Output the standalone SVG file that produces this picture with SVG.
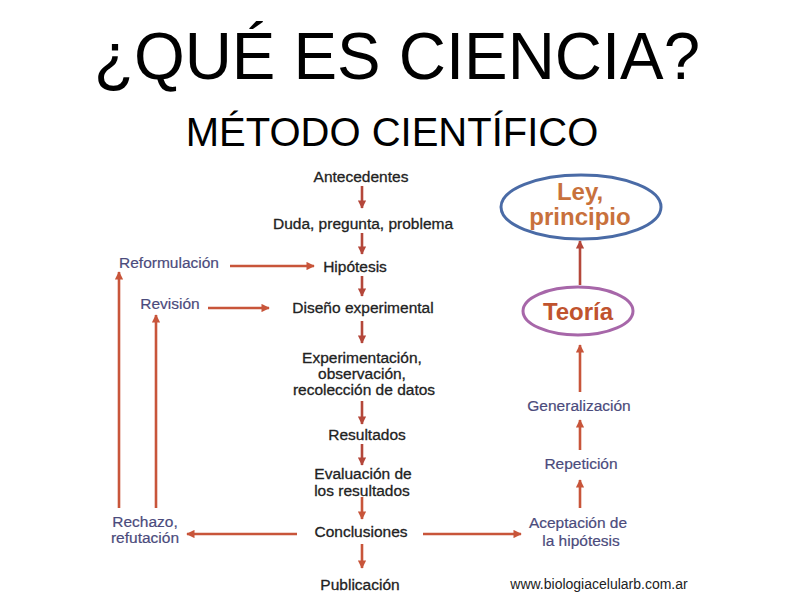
<svg xmlns="http://www.w3.org/2000/svg" width="794" height="595" viewBox="0 0 794 595">
<defs>
<marker id="ah" viewBox="0 0 10 10" refX="9" refY="5" markerWidth="3.4" markerHeight="3.2" orient="auto" markerUnits="strokeWidth">
<path d="M0,0 L10,5 L0,10 Z" fill="#c8553a"/>
</marker>
<marker id="ahd" viewBox="0 0 10 10" refX="9" refY="5" markerWidth="3.4" markerHeight="3.2" orient="auto" markerUnits="strokeWidth">
<path d="M0,0 L10,5 L0,10 Z" fill="#b4473a"/>
</marker>
</defs>
<style>
text{font-family:"Liberation Sans",Arial,sans-serif;}
.t{fill:#000;}
.c{font-size:15.5px;fill:#222;stroke:#222;stroke-width:0.3;text-anchor:middle;}
.s{font-size:15.5px;fill:#4b4b7c;stroke:#4b4b7c;stroke-width:0.2;text-anchor:middle;}
.b{font-size:24px;font-weight:bold;text-anchor:middle;}
.a{stroke:#c8553a;stroke-width:2.6;fill:none;marker-end:url(#ah);}
.ad{stroke:#b4473a;stroke-width:2.6;fill:none;marker-end:url(#ahd);}
</style>
<rect width="794" height="595" fill="#fff"/>
<text class="t" x="397" y="79" font-size="67" text-anchor="middle" textLength="606" lengthAdjust="spacingAndGlyphs">¿QUÉ ES CIENCIA?</text>
<text class="t" x="392" y="146" font-size="40" text-anchor="middle">MÉTODO CIENTÍFICO</text>

<g id="connectors">
<line class="ad" x1="362" y1="186" x2="362" y2="208"/>
<line class="ad" x1="362" y1="233" x2="362" y2="254"/>
<line class="ad" x1="362" y1="276" x2="362" y2="296"/>
<line class="ad" x1="362" y1="321" x2="362" y2="343"/>
<line class="ad" x1="362" y1="401" x2="362" y2="424"/>
<line class="ad" x1="362" y1="444" x2="362" y2="465"/>
<line class="a" x1="362" y1="497" x2="362" y2="519"/>
<line class="a" x1="362" y1="544" x2="362" y2="568"/>
<line class="a" x1="230" y1="266" x2="314" y2="266"/>
<line class="a" x1="208" y1="308" x2="269" y2="308"/>
<line class="a" x1="297" y1="534" x2="187" y2="534"/>
<line class="a" x1="119" y1="508" x2="119" y2="272"/>
<line class="a" x1="156" y1="508" x2="156" y2="315"/>
<line class="a" x1="423" y1="534" x2="521" y2="534"/>
<line class="a" x1="580" y1="508" x2="580" y2="480"/>
<line class="a" x1="580" y1="450" x2="580" y2="420"/>
<line class="a" x1="580" y1="392" x2="580" y2="345"/>
<line class="ad" x1="580" y1="285" x2="580" y2="241"/>
</g>

<g id="antecedentes"><text class="c" x="361" y="182">Antecedentes</text></g>
<g id="duda"><text class="c" x="363" y="229">Duda, pregunta, problema</text></g>
<g id="hipotesis"><text class="c" x="355" y="272">Hipótesis</text></g>
<g id="diseno"><text class="c" x="363" y="313">Diseño experimental</text></g>
<g id="experimentacion">
<text class="c" x="362" y="363">Experimentación,</text>
<text class="c" x="362" y="379">observación,</text>
<text class="c" x="364" y="395">recolección de datos</text>
</g>
<g id="resultados"><text class="c" x="367" y="440">Resultados</text></g>
<g id="evaluacion">
<text class="c" x="363" y="479">Evaluación de</text>
<text class="c" x="362" y="496">los resultados</text>
</g>
<g id="conclusiones"><text class="c" x="361" y="537">Conclusiones</text></g>
<g id="publicacion"><text class="c" x="360" y="590">Publicación</text></g>

<g id="reformulacion"><text class="s" x="169" y="268">Reformulación</text></g>
<g id="revision"><text class="s" x="170" y="309">Revisión</text></g>
<g id="rechazo">
<text class="s" x="145" y="527">Rechazo,</text>
<text class="s" x="145" y="543">refutación</text>
</g>

<g id="aceptacion">
<text class="s" x="578" y="528">Aceptación de</text>
<text class="s" x="581" y="546">la hipótesis</text>
</g>
<g id="repeticion"><text class="s" x="581" y="469">Repetición</text></g>
<g id="generalizacion"><text class="s" x="579" y="411">Generalización</text></g>

<g id="teoria">
<ellipse cx="578" cy="311" rx="55" ry="24" fill="none" stroke="#a767a9" stroke-width="3"/>
<text class="b" x="578" y="320" fill="#c0532e">Teoría</text>
</g>
<g id="ley">
<ellipse cx="581" cy="207" rx="80" ry="32" fill="none" stroke="#4a6ba6" stroke-width="3"/>
<text class="b" x="580" y="200" fill="#c8713c">Ley,</text>
<text class="b" x="580" y="225" fill="#c8713c">principio</text>
</g>

<text x="599" y="589" font-size="14" fill="#222" text-anchor="middle">www.biologiacelularb.com.ar</text>
</svg>
